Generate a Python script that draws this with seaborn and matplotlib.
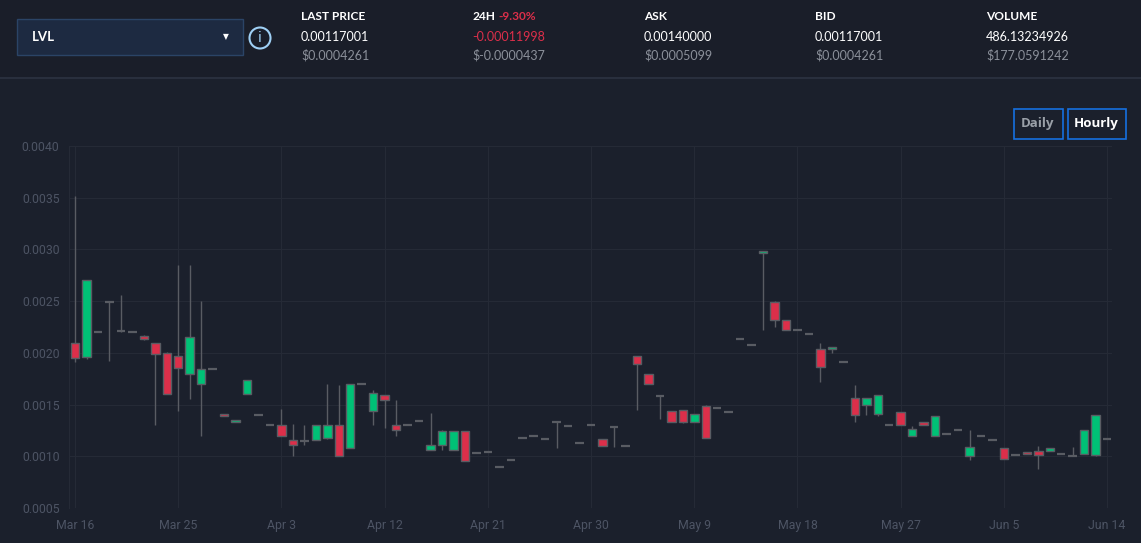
import numpy as np
import pandas as pd
import matplotlib
matplotlib.use("Agg")
import matplotlib.pyplot as plt
import seaborn as sns
from matplotlib.patches import Rectangle, Circle

# ---------------- data (daily OHLC, Mar 16 .. Jun 14) ----------------
opens = [0.00210, 0.00196, 0.00220, 0.00249, 0.00221, 0.00220, 0.00216, 0.00210, 0.00200, 0.00197,
         0.00180, 0.00170, 0.00184, 0.00141, 0.00133, 0.00160, 0.00140, 0.00130, 0.00130, 0.00116,
         0.00115, 0.00116, 0.00118, 0.00130, 0.00108, 0.00170, 0.00144, 0.00159, 0.00130, 0.00130,
         0.00134, 0.00106, 0.00111, 0.00106, 0.00124, 0.00103, 0.00104, 0.00090, 0.00096, 0.00118,
         0.00120, 0.00117, 0.00133, 0.00129, 0.00113, 0.00130, 0.00117, 0.00128, 0.00110, 0.00197,
         0.00180, 0.00158, 0.00144, 0.00145, 0.00133, 0.00149, 0.00147, 0.00143, 0.00213, 0.00208,
         0.00297, 0.00249, 0.00232, 0.00222, 0.00218, 0.00204, 0.00204, 0.00191, 0.00156, 0.00150,
         0.00141, 0.00130, 0.00143, 0.00120, 0.00133, 0.00120, 0.00122, 0.00125, 0.00100, 0.00120,
         0.00116, 0.00108, 0.00101, 0.00104, 0.00105, 0.00105, 0.00102, 0.00100, 0.00102, 0.00101,
         0.00117]
highs = [0.00352, 0.00270, 0.00220, 0.00249, 0.00256, 0.00220, 0.00217, 0.00210, 0.00201, 0.00285,
         0.00285, 0.00250, 0.00184, 0.00141, 0.00135, 0.00174, 0.00140, 0.00130, 0.00146, 0.00131,
         0.00130, 0.00130, 0.00170, 0.00169, 0.00170, 0.00170, 0.00164, 0.00159, 0.00154, 0.00130,
         0.00134, 0.00142, 0.00125, 0.00124, 0.00124, 0.00103, 0.00104, 0.00090, 0.00096, 0.00118,
         0.00120, 0.00117, 0.00133, 0.00129, 0.00113, 0.00130, 0.00117, 0.00128, 0.00110, 0.00197,
         0.00180, 0.00158, 0.00144, 0.00145, 0.00141, 0.00150, 0.00147, 0.00143, 0.00213, 0.00208,
         0.00298, 0.00250, 0.00232, 0.00222, 0.00218, 0.00210, 0.00206, 0.00191, 0.00169, 0.00156,
         0.00159, 0.00130, 0.00143, 0.00129, 0.00133, 0.00139, 0.00122, 0.00125, 0.00125, 0.00120,
         0.00116, 0.00108, 0.00101, 0.00104, 0.00110, 0.00108, 0.00102, 0.00109, 0.00125, 0.00140,
         0.00117]
lows = [0.00191, 0.00194, 0.00220, 0.00192, 0.00220, 0.00220, 0.00212, 0.00130, 0.00160, 0.00144,
        0.00155, 0.00120, 0.00184, 0.00139, 0.00133, 0.00160, 0.00140, 0.00130, 0.00120, 0.00100,
        0.00111, 0.00116, 0.00117, 0.00100, 0.00108, 0.00170, 0.00130, 0.00127, 0.00120, 0.00130,
        0.00134, 0.00106, 0.00106, 0.00106, 0.00095, 0.00103, 0.00104, 0.00090, 0.00096, 0.00118,
        0.00120, 0.00117, 0.00108, 0.00129, 0.00113, 0.00130, 0.00110, 0.00109, 0.00110, 0.00145,
        0.00170, 0.00136, 0.00133, 0.00132, 0.00133, 0.00118, 0.00147, 0.00143, 0.00213, 0.00208,
        0.00222, 0.00225, 0.00222, 0.00222, 0.00218, 0.00172, 0.00200, 0.00191, 0.00133, 0.00140,
        0.00139, 0.00130, 0.00130, 0.00120, 0.00130, 0.00120, 0.00122, 0.00125, 0.00096, 0.00120,
        0.00116, 0.00097, 0.00101, 0.00102, 0.00088, 0.00105, 0.00102, 0.00100, 0.00102, 0.00100,
        0.00117]
closes = [0.00195, 0.00270, 0.00220, 0.00249, 0.00221, 0.00220, 0.00213, 0.00199, 0.00160, 0.00185,
          0.00215, 0.00184, 0.00184, 0.00139, 0.00135, 0.00174, 0.00140, 0.00130, 0.00120, 0.00111,
          0.00115, 0.00130, 0.00130, 0.00100, 0.00170, 0.00170, 0.00161, 0.00154, 0.00125, 0.00130,
          0.00134, 0.00111, 0.00124, 0.00124, 0.00095, 0.00103, 0.00104, 0.00090, 0.00096, 0.00118,
          0.00120, 0.00117, 0.00133, 0.00129, 0.00113, 0.00130, 0.00110, 0.00128, 0.00110, 0.00189,
          0.00170, 0.00158, 0.00133, 0.00133, 0.00141, 0.00118, 0.00147, 0.00143, 0.00213, 0.00208,
          0.00298, 0.00232, 0.00222, 0.00222, 0.00218, 0.00186, 0.00206, 0.00191, 0.00140, 0.00156,
          0.00159, 0.00130, 0.00130, 0.00126, 0.00130, 0.00139, 0.00122, 0.00125, 0.00109, 0.00120,
          0.00116, 0.00097, 0.00101, 0.00102, 0.00101, 0.00108, 0.00102, 0.00100, 0.00125, 0.00140,
          0.00117]

x_tick_labels = ["Mar 16", "Mar 25", "Apr 3", "Apr 12", "Apr 21", "Apr 30",
                 "May 9", "May 18", "May 27", "Jun 5", "Jun 14"]
y_ticks = [0.0005, 0.0010, 0.0015, 0.0020, 0.0025, 0.0030, 0.0035, 0.0040]

header_labels = ["LAST PRICE", "24H", "ASK", "BID", "VOLUME"]
header_values = ["0.00117001", "-0.00011998", "0.00140000", "0.00117001", "486.13234926"]
header_usd = ["$0.0004261", "$-0.0000437", "$0.0005099", "$0.0004261", "$177.0591242"]
change_pct = "-9.30%"
symbol = "LVL"

# ---------------- style ----------------
BG = "#1b202c"
GRID = "#252a36"
TICK = "#4d5464"
GREEN = "#00c176"
RED = "#dc2f4a"
EDGE = "#595c63"

sns.set_theme(style="darkgrid", rc={
    "figure.facecolor": BG, "axes.facecolor": BG, "grid.color": GRID,
    "axes.edgecolor": GRID, "grid.linewidth": 0.8,
})
plt.rcParams["font.family"] = ["Roboto", "DejaVu Sans"]

W, H = 1141, 543
fig = plt.figure(figsize=(W / 100, H / 100), dpi=100)

# background / header layer in pixel coordinates
bg = fig.add_axes([0, 0, 1, 1], zorder=0)
bg.set_xlim(0, W)
bg.set_ylim(H, 0)
bg.axis("off")
bg.add_patch(Rectangle((0, 0), W, 77, facecolor="#1a1e29", edgecolor="none"))
bg.plot([0, W], [77.5, 77.5], color="#2d3341", lw=1.2)

# dropdown
bg.add_patch(Rectangle((17, 19), 226, 36, facecolor="#1d2a41", edgecolor="#2b4466", lw=1))
bg.text(32, 37, symbol, color="white", fontsize=9.5, fontweight="bold", va="center", ha="left",
        family=["Lato", "DejaVu Sans"])
bg.text(226, 37, "▼", color="white", fontsize=5.5, va="center", ha="center", family="DejaVu Sans")
bg.add_patch(Circle((260, 38), 10.5, facecolor="none", edgecolor="#9fd0f5", lw=1.5))
bg.text(260, 38.5, "i", color="#9fd0f5", fontsize=10, va="center", ha="center", family="DejaVu Sans")

col_x = [301, 472, 644, 815, 986]
for i, cx in enumerate(col_x):
    bg.text(cx, 17, header_labels[i], color="white", fontsize=8.6, fontweight="bold",
            va="center", ha="left", family=["Lato", "DejaVu Sans"])
    vcol = RED if i == 1 else "white"
    bg.text(cx, 37, header_values[i], color=vcol, fontsize=9, va="center", ha="left",
            family=["Lato", "DejaVu Sans"])
    bg.text(cx, 55, header_usd[i], color="#8b909a", fontsize=9, va="center", ha="left",
            family=["Lato", "DejaVu Sans"])
bg.text(498, 17, change_pct, color=RED, fontsize=8.6, fontweight="bold", va="center", ha="left",
        family=["Lato", "DejaVu Sans"])

# buttons
bg.add_patch(Rectangle((1013.5, 108.5), 49, 30, facecolor="none", edgecolor="#1670e0", lw=1.2))
bg.text(1037.5, 123.5, "Daily", color="#9aa0a8", fontsize=9.5, fontweight="bold",
        va="center", ha="center", family=["Open Sans", "DejaVu Sans"])
bg.add_patch(Rectangle((1067.5, 108.5), 58, 30, facecolor="none", edgecolor="#1670e0", lw=1.2))
bg.text(1096.5, 123.5, "Hourly", color="white", fontsize=9.5, fontweight="bold",
        va="center", ha="center", family=["Open Sans", "DejaVu Sans"])

# ---------------- candlestick axes ----------------
left, right, top, bottom = 69.3, 1111.7, 146, 508
ax = fig.add_axes([left / W, 1 - bottom / H, (right - left) / W, (bottom - top) / H], zorder=1)
ax.set_facecolor("none")

df = pd.DataFrame({"open": opens, "high": highs, "low": lows, "close": closes})
df["x"] = np.arange(len(df))
width = 0.74

ax.vlines(df["x"], df["low"], df["high"], color=EDGE, lw=1.0, zorder=2)

flat = df[df["open"] == df["close"]]
ax.hlines(flat["open"], flat["x"] - width / 2, flat["x"] + width / 2, color=EDGE, lw=1.6, zorder=3)

up = df[df["close"] > df["open"]]
dn = df[df["close"] < df["open"]]
ax.bar(up["x"], up["close"] - up["open"], bottom=up["open"], width=width,
       color=GREEN, edgecolor=EDGE, linewidth=1.0, zorder=3)
ax.bar(dn["x"], dn["open"] - dn["close"], bottom=dn["close"], width=width,
       color=RED, edgecolor=EDGE, linewidth=1.0, zorder=3)

ax.set_xlim(-0.5, 90.4)
ax.set_ylim(0.0005, 0.0040)
ax.set_xticks(np.arange(0, len(df), 9))
ax.set_xticklabels(x_tick_labels)
ax.set_yticks(y_ticks)
ax.set_yticklabels([f"{v:.4f}" for v in y_ticks])
ax.tick_params(axis="both", length=0, colors=TICK, labelsize=8.8)
ax.tick_params(axis="x", pad=8)
ax.tick_params(axis="y", pad=7)
ax.grid(True, color=GRID, lw=0.8)
for s in ["top", "right", "bottom"]:
    ax.spines[s].set_visible(False)
ax.spines["left"].set_color(GRID)
ax.spines["left"].set_linewidth(0.8)

fig.savefig("out.png", dpi=100, facecolor=BG)
